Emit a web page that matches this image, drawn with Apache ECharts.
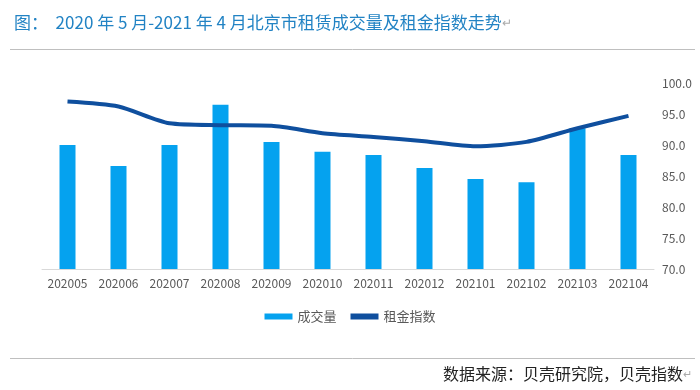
<!DOCTYPE html>
<html><head><meta charset="utf-8">
<script src="https://cdn.jsdelivr.net/npm/echarts@6/dist/echarts.min.js"></script>
<style>html,body{margin:0;padding:0;background:#fff}#c{width:700px;height:390px}</style>
</head><body><div id="c"></div>
<script>
const categories = ['202005','202006','202007','202008','202009','202010','202011','202012','202101','202102','202103','202104'];
const volume = [2.00, 1.66, 2.00, 2.65, 2.05, 1.89, 1.84, 1.63, 1.45, 1.40, 2.27, 1.84];
const rentIndex = [97.0, 96.2, 93.5, 93.2, 93.1, 91.9, 91.3, 90.6, 89.8, 90.5, 92.7, 94.7];
const rightTicks = {min: 70, max: 100, interval: 5};

const FONT = '"Noto Sans CJK SC", "Noto Sans", sans-serif';
const chart = echarts.init(document.getElementById('c'));
chart.setOption({
  animation: false,
  textStyle: {fontFamily: FONT},
  title: {
    left: 9, top: 9,
    text: '{a|图：  2020 年 5 月-2021 年 4 月北京市租赁成交量及租金指数走势}{b|↵}',
    textStyle: {fontWeight: 'normal', rich: {
      a: {fontSize: 17, color: '#2283c4', fontFamily: FONT, fontWeight: 'normal'},
      b: {fontSize: 12, color: '#aaaaaa', fontFamily: FONT}
    }}
  },
  grid: {left: 42, right: 46, top: 83, bottom: 121},
  legend: {
    top: 305, left: 'center',
    itemGap: 14, itemWidth: 28, itemHeight: 6,
    textStyle: {fontSize: 13, color: '#595959', fontFamily: FONT},
    data: [
      {name: '成交量', icon: 'rect'},
      {name: '租金指数', icon: 'rect', itemStyle: {color: '#0f4f9e'}}
    ]
  },
  xAxis: {
    type: 'category', data: categories,
    axisLine: {lineStyle: {color: '#d9d9d9'}},
    axisTick: {show: false},
    axisLabel: {color: '#595959', fontSize: 12, margin: 8, interval: 0}
  },
  yAxis: [
    {type: 'value', min: 0, max: 3, show: false, splitLine: {show: false}},
    {type: 'value', position: 'right', min: rightTicks.min, max: rightTicks.max, interval: rightTicks.interval,
     axisLine: {show: false}, axisTick: {show: false}, splitLine: {show: false},
     axisLabel: {color: '#595959', fontSize: 12, margin: 8, formatter: v => v.toFixed(1)}}
  ],
  series: [
    {name: '成交量', type: 'bar', yAxisIndex: 0, data: volume, barWidth: 16,
     itemStyle: {color: '#05a2ef'}},
    {name: '租金指数', type: 'line', yAxisIndex: 1, data: rentIndex, smooth: 0.25,
     symbol: 'none', lineStyle: {width: 4, color: '#0f4f9e'}, itemStyle: {color: '#0f4f9e'}}
  ],
  graphic: [
    {type: 'line', shape: {x1: 10, y1: 49.5, x2: 695, y2: 49.5}, style: {stroke: '#bfbfbf', lineWidth: 1}},
    {type: 'line', shape: {x1: 10, y1: 358.5, x2: 695, y2: 358.5}, style: {stroke: '#bfbfbf', lineWidth: 1}},
    {type: 'text', right: 8, top: 366,
     style: {text: '{a|数据来源：贝壳研究院，贝壳指数}{b|↵}',
       rich: {a: {fontSize: 16, fill: '#222', fontFamily: FONT}, b: {fontSize: 11, fill: '#aaaaaa', fontFamily: FONT}}}}
  ]
});
</script></body></html>
